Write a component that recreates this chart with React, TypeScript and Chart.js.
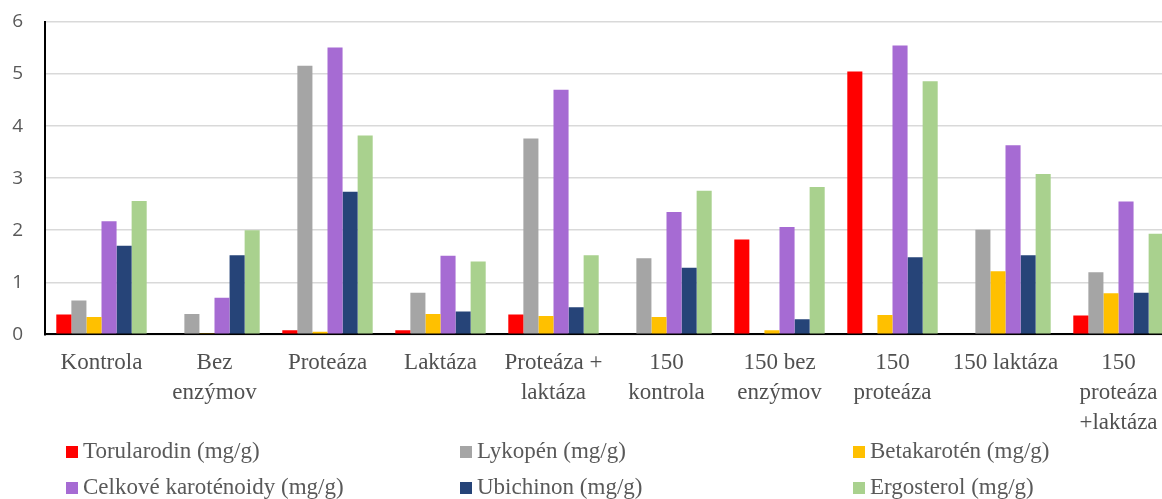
import React, { useEffect, useRef } from "react";
import { Chart, registerables } from "chart.js";

Chart.register(...registerables);

const categories: string[][] = [
  ["Kontrola"],
  ["Bez", "enzýmov"],
  ["Proteáza"],
  ["Laktáza"],
  ["Proteáza +", "laktáza"],
  ["150", "kontrola"],
  ["150 bez", "enzýmov"],
  ["150", "proteáza"],
  ["150 laktáza"],
  ["150", "proteáza", "+laktáza"],
];

const seriesNames = [
  "Torularodin (mg/g)",
  "Lykopén (mg/g)",
  "Betakarotén (mg/g)",
  "Celkové karoténoidy (mg/g)",
  "Ubichinon (mg/g)",
  "Ergosterol (mg/g)",
];

const torularodin = [0.38, 0, 0.08, 0.08, 0.38, 0, 1.82, 5.05, 0, 0.36];
const lykopen = [0.65, 0.39, 5.16, 0.8, 3.76, 1.46, 0, 0, 2.01, 1.19];
const betakaroten = [0.33, 0.02, 0.05, 0.39, 0.35, 0.33, 0.08, 0.37, 1.21, 0.79];
const celkove = [2.17, 0.7, 5.51, 1.51, 4.7, 2.35, 2.06, 5.55, 3.63, 2.55];
const ubichinon = [1.7, 1.52, 2.74, 0.44, 0.52, 1.28, 0.29, 1.48, 1.52, 0.8];
const ergosterol = [2.56, 2.0, 3.82, 1.4, 1.52, 2.76, 2.83, 4.86, 3.08, 1.93];

const colors = ["#FF0000", "#A5A5A5", "#FFC000", "#A66BD3", "#264478", "#A9D18E"];

const yTicks = [0, 1, 2, 3, 4, 5, 6];

const legendPlugin = {
  id: "gridLegend",
  afterDraw(chart: any) {
    const ctx = chart.ctx;
    const cols = [66, 460, 853];
    const rows = [452, 488];
    ctx.save();
    ctx.font = "23px 'Liberation Serif', 'Times New Roman', serif";
    ctx.textBaseline = "middle";
    ctx.textAlign = "left";
    chart.data.datasets.forEach((ds: any, i: number) => {
      const x = cols[i % 3];
      const y = rows[Math.floor(i / 3)];
      ctx.fillStyle = ds.backgroundColor;
      ctx.fillRect(x, y - 6, 12, 12);
      ctx.fillStyle = "#595959";
      ctx.fillText(ds.label, x + 17, y);
    });
    ctx.restore();
  },
};

export default function App() {
  const ref = useRef<HTMLCanvasElement | null>(null);
  useEffect(() => {
    if (!ref.current) return;
    const series = [torularodin, lykopen, betakaroten, celkove, ubichinon, ergosterol];
    const chart = new Chart(ref.current, {
      type: "bar",
      data: {
        labels: categories,
        datasets: series.map((d, i) => ({
          label: seriesNames[i],
          data: d,
          backgroundColor: colors[i],
          borderWidth: 0,
          categoryPercentage: 0.8,
          barPercentage: 1.0,
        })),
      },
      options: {
        responsive: false,
        animation: false,
        layout: { padding: { top: 22, left: 12, right: 1, bottom: 47 } },
        plugins: {
          legend: { display: false },
          tooltip: { enabled: false },
        },
        scales: {
          x: {
            grid: { display: false, drawTicks: false },
            border: { display: true, color: "#000000", width: 2 },
            afterFit: (axis: any) => {
              axis.paddingLeft = 0;
              axis.paddingRight = 0;
            },
            ticks: {
              color: "#505050",
              padding: 14,
              maxRotation: 0,
              autoSkip: false,
              font: { family: "'Liberation Serif', 'Times New Roman', serif", size: 23, lineHeight: 1.3 },
            },
          },
          y: {
            min: 0,
            max: 6,
            afterBuildTicks: (axis: any) => {
              axis.ticks = yTicks.map((v) => ({ value: v }));
            },
            afterFit: (axis: any) => {
              axis.width = 33;
              axis.paddingTop = 0;
              axis.paddingBottom = 0;
            },
            grid: { color: "#d9d9d9", lineWidth: 1.5, drawTicks: false },
            border: { display: true, color: "#000000", width: 2 },
            ticks: {
              color: "#595959",
              padding: 22,
              font: { family: "'Open Sans', 'Liberation Sans', sans-serif", size: 19 },
            },
          },
        },
      },
      plugins: [legendPlugin],
    });
    return () => chart.destroy();
  }, []);
  return (
    <div style={{ width: 1176, height: 499 }}>
      <style>{`html,body{margin:0;padding:0;overflow:hidden;background:#fff}`}</style>
      <canvas ref={ref} width={1176} height={499} style={{ display: "block" }} />
    </div>
  );
}
